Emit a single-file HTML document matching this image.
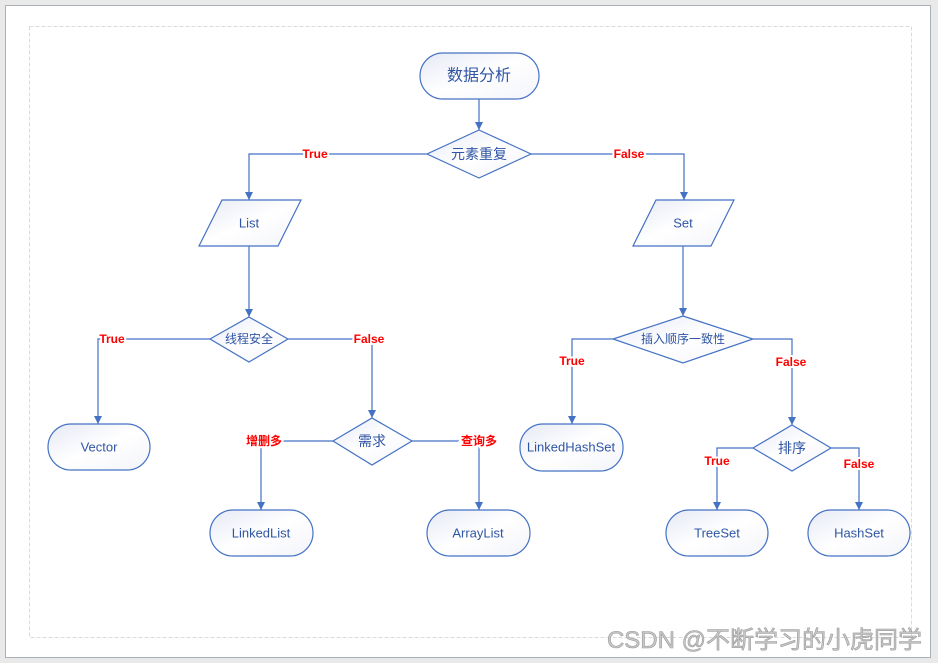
<!DOCTYPE html>
<html><head><meta charset="utf-8"><style>
html,body{margin:0;padding:0;background:#e9e9e9;}
svg{display:block;}
text{font-family:"Liberation Sans","Noto Sans CJK SC",sans-serif;}
.n{fill:url(#g);stroke:#4472c4;stroke-width:1.2;}
.t{fill:#2f55a4;font-size:13px;text-anchor:middle;dominant-baseline:central;}
.l{fill:none;stroke:#4472c4;stroke-width:1.2;}
.r{fill:#ff0000;font-size:12px;font-weight:bold;text-anchor:middle;dominant-baseline:central;stroke:#fff;stroke-width:4px;paint-order:stroke;}
</style></head><body>
<svg width="938" height="663" viewBox="0 0 938 663" xmlns="http://www.w3.org/2000/svg">
<defs>
<linearGradient id="g" x1="0" y1="0" x2="1" y2="1"><stop offset="0" stop-color="#e6e9f5"/><stop offset="0.5" stop-color="#ffffff"/><stop offset="1" stop-color="#f3f4fa"/></linearGradient>
<marker id="a" markerWidth="8" markerHeight="8" refX="4" refY="7" orient="auto" markerUnits="userSpaceOnUse"><path d="M0,0 L8,0 L4,8 z" fill="#4472c4" transform="rotate(-90 4 4) translate(0,0)"/></marker>
<marker id="b" viewBox="0 0 10 10" refX="10" refY="5" markerWidth="8" markerHeight="8" orient="auto" markerUnits="userSpaceOnUse"><path d="M0,0 L10,5 L0,10 z" fill="#4472c4"/></marker>
</defs>
<rect x="5.5" y="5.5" width="925" height="652" fill="#fff" stroke="#aab0b8"/>
<rect x="29.5" y="26.5" width="882" height="611" fill="none" stroke="#d8dce2" stroke-dasharray="4,2"/>

<!-- connectors -->
<g class="l" marker-end="url(#b)">
<path d="M479,99 V130"/>
<path d="M427,154 H249 V200"/>
<path d="M531,154 H684 V200"/>
<path d="M249,246 V317"/>
<path d="M210,339 H98 V424"/>
<path d="M288,339 H372 V418"/>
<path d="M333,441 H261 V510"/>
<path d="M412,441 H479 V510"/>
<path d="M683,246 V316"/>
<path d="M613,339 H572 V424"/>
<path d="M753,339 H792 V425"/>
<path d="M753,448 H717 V510"/>
<path d="M831,448 H859 V510"/>
</g>

<!-- nodes -->
<rect class="n" x="420" y="53" width="119" height="46" rx="23"/><text class="t" x="479" y="76" style="font-size:16px">数据分析</text>
<polygon class="n" points="479,130 531,154 479,178 427,154"/><text class="t" x="479" y="154" style="font-size:14px">元素重复</text>
<polygon class="n" points="222,200 301,200 278,246 199,246"/><text class="t" x="249" y="223">List</text>
<polygon class="n" points="656,200 734,200 711,246 633,246"/><text class="t" x="683" y="223">Set</text>
<polygon class="n" points="249,317 288,339 249,362 210,339"/><text class="t" x="249" y="339" style="font-size:12px">线程安全</text>
<rect class="n" x="48" y="424" width="102" height="46" rx="23"/><text class="t" x="99" y="447">Vector</text>
<polygon class="n" points="372,418 412,441 372,465 333,441"/><text class="t" x="372" y="441" style="font-size:14px">需求</text>
<rect class="n" x="210" y="510" width="103" height="46" rx="23"/><text class="t" x="261" y="533">LinkedList</text>
<rect class="n" x="427" y="510" width="103" height="46" rx="23"/><text class="t" x="478" y="533">ArrayList</text>
<polygon class="n" points="683,316 753,339 683,363 613,339"/><text class="t" x="683" y="339" style="font-size:12px">插入顺序一致性</text>
<rect class="n" x="520" y="424" width="103" height="47" rx="23"/><text class="t" x="571" y="447">LinkedHashSet</text>
<polygon class="n" points="792,425 831,448 792,471 753,448"/><text class="t" x="792" y="448" style="font-size:14px">排序</text>
<rect class="n" x="666" y="510" width="102" height="46" rx="23"/><text class="t" x="717" y="533">TreeSet</text>
<rect class="n" x="808" y="510" width="102" height="46" rx="23"/><text class="t" x="859" y="533">HashSet</text>

<!-- labels -->
<text class="r" x="315" y="154">True</text>
<text class="r" x="629" y="154">False</text>
<text class="r" x="112" y="339">True</text>
<text class="r" x="369" y="339">False</text>
<text class="r" x="264" y="441">增删多</text>
<text class="r" x="479" y="441">查询多</text>
<text class="r" x="572" y="361">True</text>
<text class="r" x="791" y="362">False</text>
<text class="r" x="717" y="461">True</text>
<text class="r" x="859" y="464">False</text>

<text x="922" y="648" text-anchor="end" style="font-size:24px;fill:#c8c8c8;stroke:#9a9a9a;stroke-width:0.6px">CSDN @不断学习的小虎同学</text>
</svg>
</body></html>
